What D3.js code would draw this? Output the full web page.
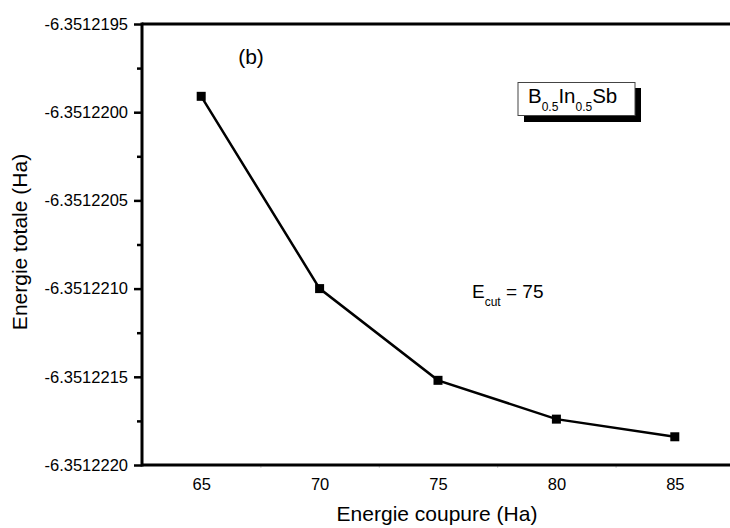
<!DOCTYPE html>
<html>
<head>
<meta charset="utf-8">
<script src="https://cdn.jsdelivr.net/npm/d3@7"></script>
<style>
  html, body { margin: 0; padding: 0; background: #fff; }
  svg { display: block; font-family: "Liberation Sans", Arial, sans-serif; }
</style>
</head>
<body>
<svg id="chart" width="730" height="528"></svg>
<script>
// Convergence of total energy with the cut-off energy
const cutoff = [65, 70, 75, 80, 85];
const totalEnergy = [-6.35121991, -6.3512210, -6.35122152, -6.35122174, -6.35122184];
const xTicks = [65, 70, 75, 80, 85];
const xMinorTicks = [67.5, 72.5, 77.5, 82.5];
const yTicks = [-6.3512195, -6.3512200, -6.3512205, -6.3512210, -6.3512215, -6.3512220];
const yTickLabels = ["-6.3512195", "-6.3512200", "-6.3512205", "-6.3512210", "-6.3512215", "-6.3512220"];
const yMinorTicks = [-6.35121975, -6.35122025, -6.35122075, -6.35122125, -6.35122175];

const svg = d3.select("#chart");
const plotLeft = 142, plotTop = 24, plotBottom = 465, plotRight = 734;

const x = d3.scaleLinear().domain([62.5, 87.5]).range([plotLeft, plotRight]);
const y = d3.scaleLinear().domain([-6.3512220, -6.3512195]).range([plotBottom, plotTop]);

// Y axis
const yAxis = d3.axisLeft(y)
  .tickValues(yTicks)
  .tickFormat((d, i) => yTickLabels[i])
  .tickSize(8)
  .tickPadding(6);
const gy = svg.append("g").attr("transform", `translate(${plotLeft},0)`).call(yAxis);
gy.select(".domain").remove();
gy.attr("font-family", null);
gy.selectAll(".tick line").attr("stroke", "#000").attr("stroke-width", 2.5);
gy.selectAll(".tick text").attr("font-size", 16.5).attr("fill", "#000");

const gyMinor = svg.append("g").attr("transform", `translate(${plotLeft},0)`)
  .call(d3.axisLeft(y).tickValues(yMinorTicks).tickSize(5).tickFormat(""));
gyMinor.select(".domain").remove();
gyMinor.selectAll(".tick line").attr("stroke", "#000").attr("stroke-width", 2.5);

// X axis
const xAxis = d3.axisBottom(x)
  .tickValues(xTicks)
  .tickSize(0)
  .tickPadding(13);
const gx = svg.append("g").attr("transform", `translate(0,${plotBottom})`).call(xAxis);
gx.select(".domain").remove();
gx.attr("font-family", null);
gx.selectAll(".tick text").attr("font-size", 16.5).attr("fill", "#000");

const gxMinor = svg.append("g").attr("transform", `translate(0,${plotBottom})`)
  .call(d3.axisBottom(x).tickValues(xMinorTicks).tickSize(3).tickFormat(""));
gxMinor.select(".domain").remove();
gxMinor.selectAll(".tick line").attr("stroke", "#ccc").attr("stroke-width", 1);

// Frame
svg.append("line").attr("x1", plotLeft).attr("x2", 730).attr("y1", plotTop).attr("y2", plotTop)
  .attr("stroke", "#000").attr("stroke-width", 3);
svg.append("line").attr("x1", plotLeft).attr("x2", 730).attr("y1", plotBottom).attr("y2", plotBottom)
  .attr("stroke", "#000").attr("stroke-width", 3);
svg.append("line").attr("x1", plotLeft).attr("x2", plotLeft).attr("y1", plotTop - 1.5).attr("y2", plotBottom + 1.5)
  .attr("stroke", "#000").attr("stroke-width", 3);

// Data line and markers
const pts = cutoff.map((c, i) => [c, totalEnergy[i]]);
svg.append("path")
  .datum(pts)
  .attr("fill", "none")
  .attr("stroke", "#000")
  .attr("stroke-width", 2.5)
  .attr("d", d3.line().x(d => x(d[0])).y(d => y(d[1])));
svg.selectAll("rect.marker").data(pts).enter().append("rect")
  .attr("class", "marker")
  .attr("x", d => x(d[0]) - 4.5)
  .attr("y", d => y(d[1]) - 4.5)
  .attr("width", 9).attr("height", 9)
  .attr("fill", "#000");

// Axis titles
svg.append("text").attr("x", 437).attr("y", 521).attr("text-anchor", "middle")
  .attr("font-size", 21).text("Energie coupure (Ha)");
svg.append("text").attr("transform", "translate(27,242) rotate(-90)").attr("text-anchor", "middle")
  .attr("font-size", 21).text("Energie totale (Ha)");

// Panel tag
svg.append("text").attr("x", 251).attr("y", 64).attr("text-anchor", "middle")
  .attr("font-size", 21).text("(b)");

// Compound label box with drop shadow
svg.append("rect").attr("x", 524).attr("y", 88).attr("width", 117).attr("height", 34).attr("fill", "#000");
svg.append("rect").attr("x", 518).attr("y", 82.5).attr("width", 117).attr("height", 33)
  .attr("fill", "#fff").attr("stroke", "#444").attr("stroke-width", 1);
const comp = svg.append("text").attr("x", 528).attr("y", 103).attr("font-size", 20.5);
comp.append("tspan").text("B");
comp.append("tspan").attr("font-size", 12).attr("dy", 8).text("0.5");
comp.append("tspan").attr("dy", -8).text("In");
comp.append("tspan").attr("font-size", 12).attr("dy", 8).text("0.5");
comp.append("tspan").attr("dy", -8).text("Sb");

// Chosen cut-off annotation
const ec = svg.append("text").attr("x", 472).attr("y", 298).attr("font-size", 19);
ec.append("tspan").text("E");
ec.append("tspan").attr("font-size", 12).attr("dy", 8).text("cut");
ec.append("tspan").attr("dy", -8).text(" = 75");
</script>
</body>
</html>
